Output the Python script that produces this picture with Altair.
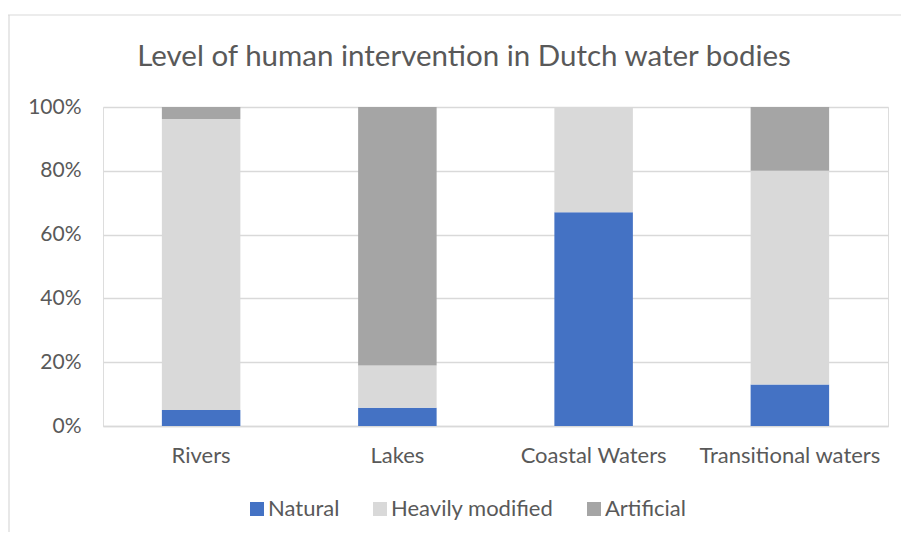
import altair as alt
import pandas as pd

categories = ["Rivers", "Lakes", "Coastal Waters", "Transitional waters"]
series = ["Natural", "Heavily modified", "Artificial"]
natural = [0.05, 0.057, 0.67, 0.13]
heavily_modified = [0.912, 0.133, 0.33, 0.67]
artificial = [0.038, 0.81, 0.0, 0.20]
colors = ["#4472C4", "#D9D9D9", "#A5A5A5"]
title_text = "Level of human intervention in Dutch water bodies"

rows = []
for i, c in enumerate(categories):
    for j, (s, vals) in enumerate(zip(series, [natural, heavily_modified, artificial])):
        rows.append({"category": c, "series": s, "value": vals[i], "order": j})
df = pd.DataFrame(rows)

FONT = "Lato"
GRAY = "#595959"

bars = alt.Chart(df).mark_bar(strokeWidth=0).encode(
    x=alt.X("category:N", sort=categories, title=None,
            scale=alt.Scale(paddingInner=0.6, paddingOuter=0.3),
            axis=alt.Axis(labelAngle=0, labelFont=FONT, labelFontSize=22,
                          labelColor=GRAY, ticks=False, domain=True,
                          domainColor="#d9d9d9", domainWidth=1.5,
                          labelPadding=19, labelLimit=0)),
    y=alt.Y("value:Q", stack="zero", title=None,
            scale=alt.Scale(domain=[0, 1], nice=False),
            axis=alt.Axis(values=[0, 0.2, 0.4, 0.6, 0.8, 1.0], format=".0%",
                          labelFont=FONT, labelFontSize=21, labelColor=GRAY,
                          ticks=False, domain=False, grid=True,
                          gridColor="#d9d9d9", gridWidth=1.3, labelPadding=22)),
    color=alt.Color("series:N", scale=alt.Scale(domain=series, range=colors),
                    legend=alt.Legend(title=None, orient="none", direction="horizontal",
                                      legendX=143, legendY=391,
                                      symbolType="square", symbolSize=196,
                                      symbolStrokeWidth=0, symbolOpacity=1,
                                      labelFont=FONT, labelFontSize=22, labelColor=GRAY,
                                      labelOffset=0, columnPadding=29, labelLimit=0)),
    order=alt.Order("order:Q"),
)

title = alt.Chart(pd.DataFrame({"t": [title_text]})).mark_text(
    font=FONT, fontSize=29.5, color=GRAY, align="center", baseline="alphabetic"
).encode(text="t:N", x=alt.value(361), y=alt.value(-41))

border_top = alt.Chart(pd.DataFrame({"a": [0]})).mark_rule(
    color="#d9d9d9", strokeWidth=1.2
).encode(x=alt.value(-95), x2=alt.value(800), y=alt.value(-92))

border_left = alt.Chart(pd.DataFrame({"a": [0]})).mark_rule(
    color="#d9d9d9", strokeWidth=1.2
).encode(x=alt.value(-94), y=alt.value(-92), y2=alt.value(440))

chart = alt.layer(bars, title, border_top, border_left).properties(
    width=785, height=319,
    padding={"left": 95, "top": 99, "right": 13, "bottom": 106},
    autosize=alt.AutoSizeParams(type="none"),
).configure_view(stroke=None).configure(background="white")

chart.save("out.html", embed_options={"renderer": "svg", "actions": False})
